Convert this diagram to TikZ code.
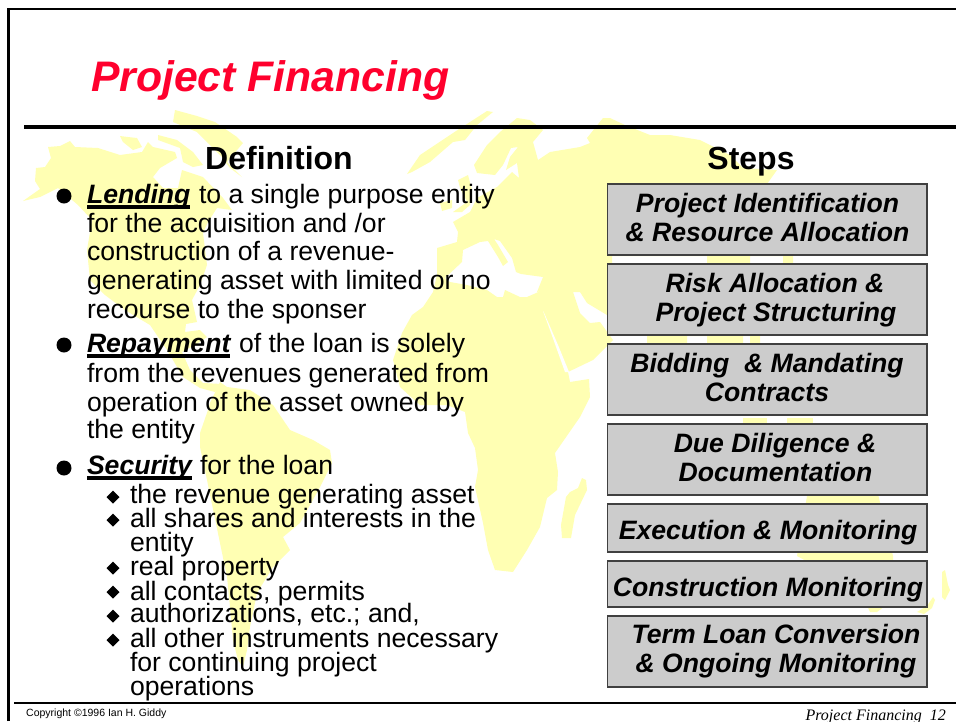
\documentclass[tikz,border=0pt]{standalone}
\usepackage{fontspec}
\setmainfont{Liberation Sans}
\newfontfamily\timesfam{Liberation Serif}
\definecolor{landyellow}{RGB}{255,255,179}
\definecolor{boxgray}{RGB}{204,204,204}
\definecolor{titlered}{RGB}{255,0,45}
\newcommand{\bodyfont}{\fontsize{26.6}{29}\selectfont}
\tikzset{
  land/.style={fill=landyellow,draw=none},
  txt/.style={inner sep=0pt,outer sep=0pt,anchor=base west,font=\bodyfont},
  lead/.style={txt,font=\bodyfont\bfseries\itshape},
  sub/.style={txt},
  heading/.style={inner sep=0pt,anchor=base,font=\fontsize{32}{34}\selectfont\bfseries},
  stepbox/.style={draw=black!75,line width=1.6pt,fill=boxgray},
  steptext/.style={inner sep=0pt,anchor=base,font=\bodyfont\bfseries\itshape},
  bulletdot/.style={circle,fill=black,inner sep=0pt,minimum size=15pt},
  bulletdia/.style={fill=black},
  ulinestyle/.style={line width=3.6pt},
  framerule/.style={line width=2.6pt,black}
}
\begin{document}
\begin{tikzpicture}[x=1pt,y=-1pt]
\clip (0,0) rectangle (956,721);
\fill[white] (0,0) rectangle (956,721);
% ---- world map
% North America
\fill[land] (23,201)--(40,189)--(35,181)--(36,168)--(45,167)--(51,158)--(48,147)--(60,146)--(70,141)--(75,147)--(98,148)--(120,155)--(142,152)--(148,142)--(153,147)--(175,152)--(177,158)--(160,168)--(153,177)--(163,188)--(178,188)--(182,170)--(203,177)--(223,198)--(232,210)--(217,208)--(208,222)--(203,233)--(207,265)--(200,285)--(192,300)--(197,322)--(186,324)--(185,332)--(200,330)--(207,337)--(195,345)--(182,352)--(190,370)--(203,383)--(222,384)--(215,392)--(200,388)--(183,377)--(167,350)--(150,325)--(125,310)--(105,295)--(90,280)--(87,250)--(92,220)--(78,205)--(58,188)--(40,197)--cycle;
% Arctic islands and Greenland
\fill[land] (120,136)--(128,137)--(137,138)--(142,147)--(133,150)--(123,142)--cycle;
\fill[land] (158,135)--(177,140)--(193,152)--(203,165)--(193,167)--(183,162)--(180,148)--(158,140)--cycle;
\fill[land] (175,110)--(197,116)--(215,122)--(237,137)--(243,143)--(227,162)--(242,177)--(230,168)--(220,155)--(197,132)--(173,122)--cycle;
% Svalbard-like strip
\fill[land] (407,174)--(420,155)--(453,133)--(487,111)--(493,112)--(477,125)--(465,140)--(453,142)--(430,162)--(412,172)--cycle;
% Britain and Ireland
\fill[land] (468,175)--(458,180)--(460,188)--(467,202)--(453,212)--(462,212)--(470,205)--(472,190)--cycle;
\fill[land] (440,203)--(452,200)--(452,208)--(442,211)--cycle;
% Eurasia and Africa with Mediterranean
\fill[land,even odd rule]
  (458,232)--(453,222)--(470,212)--(477,198)--(497,187)--(512,172)--(519,178)--(517,163)--(506,170)--(510,157)--(518,147)--(511,148)--(503,165)--(495,175)--(477,173)--(474,165)--(487,145)--(500,132)--(517,118)--(530,120)--(543,130)--(533,142)--(538,160)--(550,152)--(580,147)--(590,143)--(587,138)--(603,118)--(610,118)--(625,125)--(650,135)--(670,135)--(700,140)--(730,155)--(743,168)--(777,170)--(767,184)--(770,230)--(793,255)--(793,264)--(790,290)--(760,320)--(760,344)--(750,344)--(750,336)--(743,336)--(743,344)--(707,344)--(707,336)--(687,336)--(687,344)--(647,344)--(647,330)--(640,325)--(607,315)--(587,303)--(580,292)--(573,292)--(580,313)--(590,323)--(600,322)--(613,340)--(603,350)--(593,360)--(568,372)--(570,382)--(589,379)--(590,397)--(580,417)--(555,453)--(558,472)--(557,490)--(547,498)--(540,527)--(527,550)--(513,572)--(495,570)--(488,550)--(483,523)--(475,487)--(478,470)--(475,448)--(468,433)--(465,412)--(447,405)--(420,405)--(400,387)--(393,360)--(402,333)--(412,315)--(423,307)--(433,292)--(437,275)--(437,248)--(457,242)--cycle
  (462,262)--(463,250)--(480,242)--(488,241)--(498,257)--(503,266)--(508,262)--(498,245)--(494,239)--(500,241)--(512,258)--(516,272)--(521,274)--(543,277)--(537,292)--(543,290)--(527,297)--(520,297)--(505,290)--(503,297)--(497,297)--(487,290)--(467,285)--(450,282)--(445,278)--cycle
  (612,256)--(707,256)--(707,263)--(612,263)--cycle
  (750,256)--(783,256)--(783,263)--(750,263)--cycle;
% Red Sea
\fill[white] (543,311)--(550,330)--(565,372)--(569,372)--(558,345)--(545,315)--cycle;
% Madagascar
\fill[land] (582,478)--(586,480)--(587,490)--(575,515)--(571,538)--(562,538)--(561,525)--(566,497)--(570,492)--(578,488)--cycle;
% South America
\fill[land] (220,382)--(227,387)--(250,390)--(273,405)--(290,430)--(313,440)--(330,450)--(332,463)--(320,487)--(300,523)--(283,537)--(290,550)--(273,567)--(257,593)--(250,627)--(247,650)--(243,667)--(238,660)--(233,640)--(230,607)--(227,577)--(207,480)--(200,447)--(200,433)--(208,410)--(210,403)--cycle;
% SE Asia islands and Australia (seen between the boxes)
\fill[land] (743,418)--(767,418)--(767,426)--(743,426)--cycle;
\fill[land] (787,418)--(813,418)--(813,426)--(787,426)--cycle;
\fill[land] (808,490)--(877,490)--(893,556)--(893,600)--(877,612)--(870,612)--(860,590)--(797,556)--cycle;
\fill[land] (942,572)--(945,570)--(948,585)--(950,590)--(945,600)--(942,597)--cycle;
\fill[land] (933,597)--(935,600)--(932,608)--(924,614)--(917,612)--(927,606)--cycle;
% ---- frame and rules
\coordinate (frameBL) at (8.3,721);
\coordinate (frameTL) at (8.3,9);
\coordinate (frameTR) at (956,9);
\draw[framerule] (frameBL) -- (frameTL) -- (frameTR);
\coordinate (ruleL) at (24,127);
\coordinate (ruleR) at (956,127);
\draw[line width=4pt] (ruleL) -- (ruleR);
\coordinate (footL) at (14,703);
\coordinate (footR) at (956,703);
\draw[framerule] (footL) -- (footR);
% ---- title
\node[inner sep=0pt,anchor=base west,text=titlered,font=\fontsize{42.7}{44}\selectfont\bfseries\itshape] (title) at (91,91) {Project Financing};
\node[heading] (defh) at (279,169) {Definition};
\node[heading] (stepsh) at (751,169) {Steps};
% ---- bullets
\node[bulletdot] (b1) at (64,196) {};
\node[bulletdot] (b2) at (64,345) {};
\node[bulletdot] (b3) at (64,468) {};
% ---- left text
\node[lead] (lend) at (87,203) {Lending};
\node[txt] (l1) at (199,203) {to a single purpose entity};
\node[txt] (l2) at (87,232) {for the acquisition and /or};
\node[txt] (l3) at (87,260) {construction of a revenue-};
\node[txt] (l4) at (87,289) {generating asset with limited or no};
\node[txt] (l5) at (87,318) {recourse to the sponser};
\node[lead] (rep) at (87,352) {Repayment};
\node[txt] (r1) at (239,352) {of the loan is solely};
\node[txt] (r2) at (87,382) {from the revenues generated from};
\node[txt] (r3) at (87,411) {operation of the asset owned by};
\node[txt] (r4) at (87,438) {the entity};
\node[lead] (sec) at (87,474) {Security};
\node[txt] (s0) at (200,474) {for the loan};
\draw[ulinestyle] ([yshift=-4pt]lend.base west) -- ([yshift=-4pt]lend.base east);
\draw[ulinestyle] ([yshift=-4pt]rep.base west) -- ([yshift=-4pt]rep.base east);
\draw[ulinestyle] ([yshift=-4pt]sec.base west) -- ([yshift=-4pt]sec.base east);
\node[sub] (s1) at (130,503) {the revenue generating asset};
\node[sub] (s2) at (130,527) {all shares and interests in the};
\node[sub] (s2b) at (130,551) {entity};
\node[sub] (s3) at (130,575) {real property};
\node[sub] (s4) at (130,600) {all contacts, permits};
\node[sub] (s5) at (130,622) {authorizations, etc.; and,};
\node[sub] (s6) at (130,647) {all other instruments necessary};
\node[sub] (s6b) at (130,671) {for continuing project};
\node[sub] (s6c) at (130,695) {operations};
\foreach \yy in {497,520,568,592,616,640}{
  \fill[bulletdia] (113,\yy-6.5)--(119.5,\yy)--(113,\yy+6.5)--(106.5,\yy)--cycle;
}
% ---- step boxes
\foreach \nm/\ya/\yb in {box1/184/255,box2/264/335,box3/344/415,box4/424/495,box5/504/552,box6/561/607,box7/616/687}{
  \draw[stepbox] (607.5,\ya) rectangle (927,\yb);
}
\node[steptext] (t1a) at (767.5,212) {Project Identification};
\node[steptext] (t1b) at (767.5,241) {\& Resource Allocation};
\node[steptext] (t2a) at (775,292) {Risk Allocation \&};
\node[steptext] (t2b) at (776,321) {Project Structuring};
\node[steptext] (t3a) at (767,372) {Bidding\ \ \& Mandating};
\node[steptext] (t3b) at (767,401) {Contracts};
\node[steptext] (t4a) at (775,452) {Due Diligence \&};
\node[steptext] (t4b) at (775.5,481) {Documentation};
\node[steptext] (t5) at (768,539) {Execution \& Monitoring};
\node[steptext] (t6) at (768,596) {Construction Monitoring};
\node[steptext] (t7a) at (776,643) {Term Loan Conversion};
\node[steptext] (t7b) at (776,672) {\& Ongoing Monitoring};
% ---- footers
\node[inner sep=0pt,anchor=base west,font=\fontsize{10.5}{12}\selectfont] (copy) at (26,716) {Copyright ©1996 Ian H. Giddy};
\node[inner sep=0pt,anchor=base east,font=\fontsize{16}{18}\selectfont\timesfam\itshape] (pg) at (946,720) {Project Financing\ \ 12};
\end{tikzpicture}
\end{document}
